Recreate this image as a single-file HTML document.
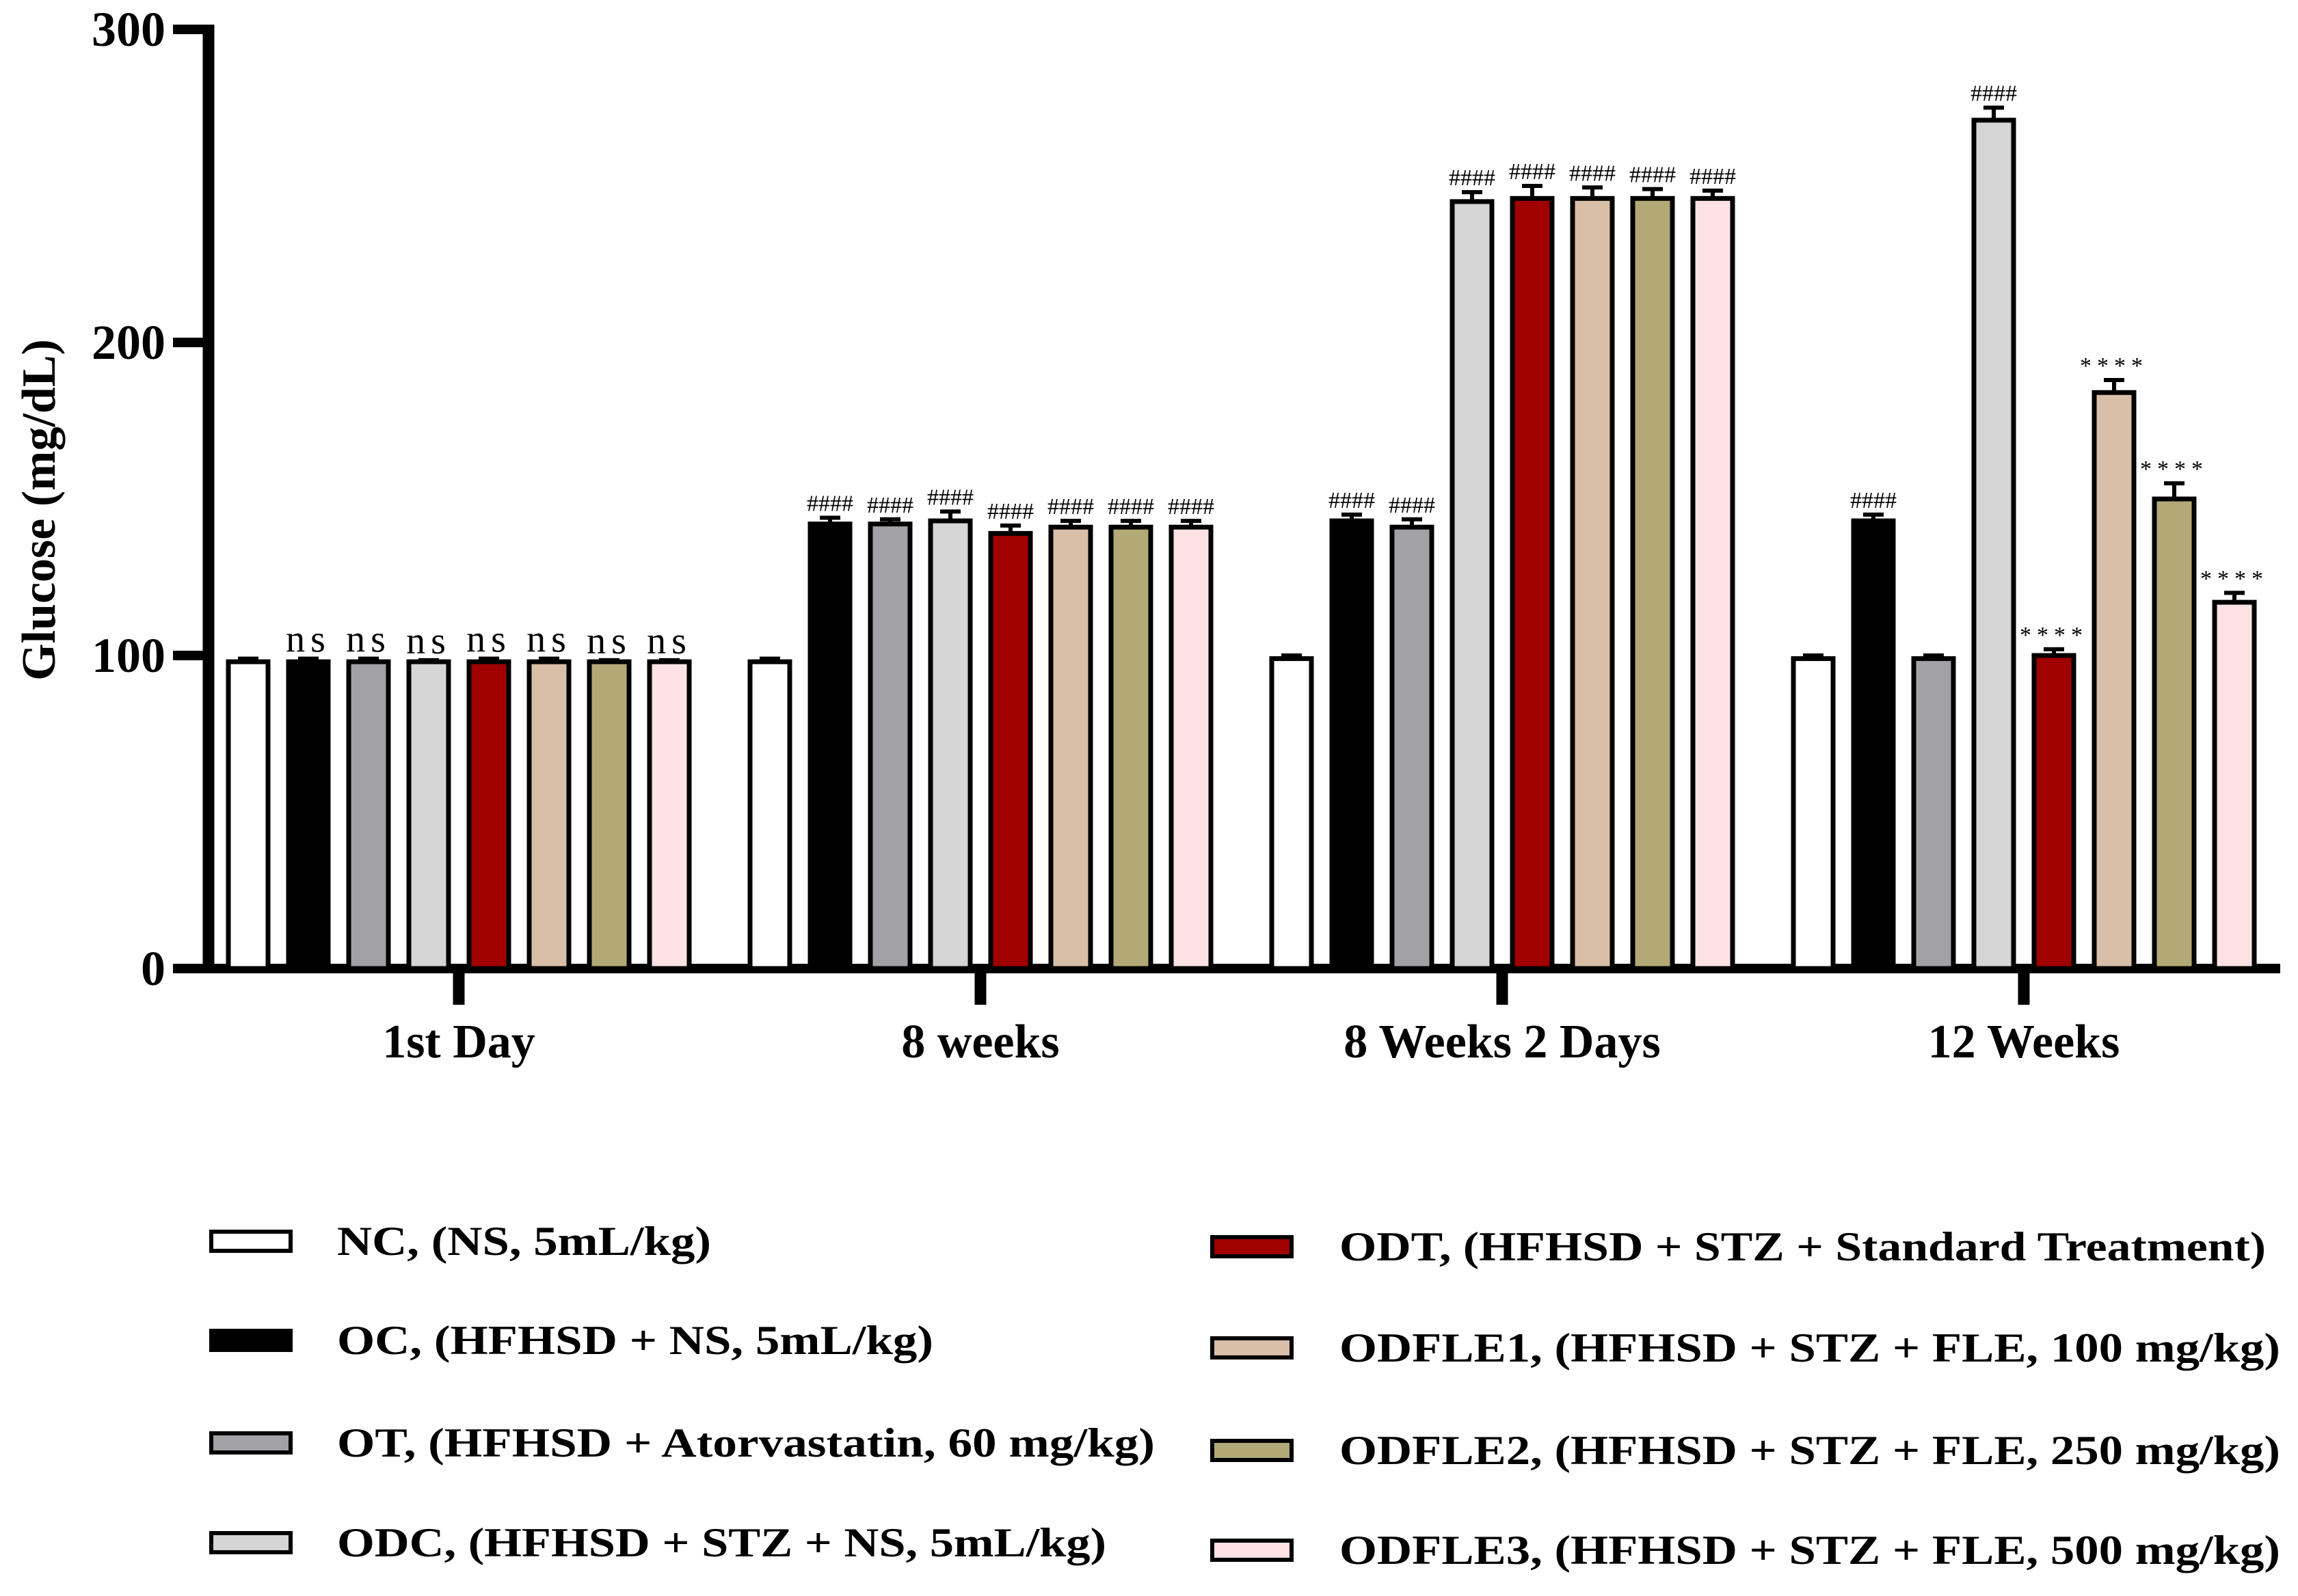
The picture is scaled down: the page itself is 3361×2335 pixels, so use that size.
<!DOCTYPE html>
<html><head><meta charset="utf-8"><style>
html,body{margin:0;padding:0;background:#fff;}
svg{display:block;font-family:"Liberation Serif",serif;}
</style></head><body>
<svg id="chart" width="3361" height="2335" viewBox="0 0 3361 2335" xmlns="http://www.w3.org/2000/svg">
<g id="axes"></g>
<g id="bars"></g>
<g id="legend"></g>
</svg>
<script>
const categories = ["1st Day", "8 weeks", "8 Weeks 2 Days", "12 Weeks"];
const seriesNames = ["NC, (NS, 5mL/kg)", "OC, (HFHSD + NS, 5mL/kg)", "OT, (HFHSD + Atorvastatin, 60 mg/kg)", "ODC, (HFHSD + STZ + NS, 5mL/kg)", "ODT, (HFHSD + STZ + Standard Treatment)", "ODFLE1, (HFHSD + STZ + FLE, 100 mg/kg)", "ODFLE2, (HFHSD + STZ + FLE, 250 mg/kg)", "ODFLE3, (HFHSD + STZ + FLE, 500 mg/kg)"];
const seriesColors = ["#ffffff", "#000000", "#a2a1a6", "#d5d5d5", "#a00000", "#d9bea8", "#b3a976", "#fde2e4"];
const valNC = [98, 98, 99, 99];
const valOC = [98, 142, 143, 143];
const valOT = [98, 142, 141, 99];
const valODC = [98, 143, 245, 271];
const valODT = [98, 139, 246, 100];
const valODFLE1 = [98, 141, 246, 184];
const valODFLE2 = [98, 141, 246, 150];
const valODFLE3 = [98, 141, 246, 117];
const errNC = [1, 1, 1, 1];
const errOC = [1, 2, 2, 2];
const errOT = [1, 1.5, 2.5, 1];
const errODC = [0.5, 3, 3, 4];
const errODT = [1, 2.5, 4, 2];
const errODFLE1 = [1, 2, 3.5, 4];
const errODFLE2 = [0.5, 2, 3, 5];
const errODFLE3 = [0.5, 2, 2.5, 3];
const annot1 = ["", "ns", "ns", "ns", "ns", "ns", "ns", "ns"];
const annot2 = ["", "####", "####", "####", "####", "####", "####", "####"];
const annot3 = ["", "####", "####", "####", "####", "####", "####", "####"];
const annot4 = ["", "####", "", "####", "****", "****", "****", "****"];
const yTicks = [0, 100, 200, 300];

const values = [valNC, valOC, valOT, valODC, valODT, valODFLE1, valODFLE2, valODFLE3];
const errs = [errNC, errOC, errOT, errODC, errODT, errODFLE1, errODFLE2, errODFLE3];
const annots = [annot1, annot2, annot3, annot4];

const NS = "http://www.w3.org/2000/svg";
const Y0 = 1417, YTOP = 43, VMAX = 300;
const yScale = v => Y0 - (v / VMAX) * (Y0 - YTOP);
const groupCenter0 = 671, groupStep = 763, barPitch = 88, barW = 58;
const xCenter = (g, s) => groupCenter0 + g * groupStep + (s - 3.5) * barPitch;

function mk(tag, attrs, parent) {
  const el = document.createElementNS(NS, tag);
  for (const k in attrs) el.setAttribute(k, attrs[k]);
  parent.appendChild(el);
  return el;
}
const axes = document.getElementById("axes");
const bars = document.getElementById("bars");
const legend = document.getElementById("legend");

for (let g = 0; g < categories.length; g++) {
  for (let s = 0; s < values.length; s++) {
    const v = values[s][g], e = errs[s][g];
    const cx = xCenter(g, s);
    const yt = yScale(v), ye = yScale(v + e);
    const eb = mk("path", {d: `M${cx},${yt} L${cx},${ye} M${cx - 15},${ye} L${cx + 15},${ye}`, stroke: "#000", "stroke-width": 6, fill: "none"}, bars);
    
    
    const r = mk("rect", {x: cx - barW / 2, y: yt, width: barW, height: Y0 - yt, fill: seriesColors[s], stroke: "#000", "stroke-width": 7}, bars);
    
    
    const a = annots[g][s];
    if (a) {
      const isNs = a === "ns";
      const isStar = a === "****";
      const t = mk("text", {x: cx, y: ye - 10, "text-anchor": "middle", "font-size": isNs ? 56 : 34, fill: "#000", "letter-spacing": isNs ? 8 : (isStar ? 8 : 0)}, bars);
      t.textContent = a;
      
      
    }
  }
}

const ya = mk("line", {x1: 305, y1: YTOP - 7, x2: 305, y2: Y0 + 7, stroke: "#000", "stroke-width": 17}, axes);


const xa = mk("line", {x1: 297, y1: Y0, x2: 3335, y2: Y0, stroke: "#000", "stroke-width": 14}, axes);


for (const t of yTicks) {
  const y = yScale(t);
  const tl = mk("line", {x1: 253, y1: y, x2: 305, y2: y, stroke: "#000", "stroke-width": 14}, axes);
  
  
  const tx = mk("text", {x: 242, y: y + 24, "text-anchor": "end", "font-size": 72, "font-weight": "bold"}, axes);
  tx.textContent = t;
  
  
}
categories.forEach((c, g) => {
  const cx = groupCenter0 + g * groupStep;
  const tl = mk("line", {x1: cx, y1: Y0, x2: cx, y2: 1470, stroke: "#000", "stroke-width": 17}, axes);
  
  
  const tx = mk("text", {x: cx, y: 1547, "text-anchor": "middle", "font-size": 70, "font-weight": "bold"}, axes);
  tx.textContent = c;
  
  
});
const yt = mk("text", {x: 0, y: 0, "text-anchor": "middle", "font-size": 70, "font-weight": "bold", transform: "translate(80,746) rotate(-90)"}, axes);
yt.textContent = "Glucose (mg/dL)";



const legX = [309, 1773], legTextX = [493, 1959];
const legY = [[1816, 1961, 2111, 2257], [1824, 1972, 2122, 2268]];
const legW = [547, 872, 1196, 1125, 1355, 1376, 1376, 1376];
seriesNames.forEach((n, i) => {
  const col = Math.floor(i / 4), row = i % 4;
  const y = legY[col][row];
  const sw = mk("rect", {x: legX[col], y: y - 14, width: 116, height: 28, fill: seriesColors[i], stroke: "#000", "stroke-width": 6}, legend);
  
  
  const t = mk("text", {x: legTextX[col], y: y + 20, "font-size": 60, "font-weight": "bold", textLength: legW[i], lengthAdjust: "spacingAndGlyphs"}, legend);
  t.textContent = n;
  
  
});
</script>
</body></html>
